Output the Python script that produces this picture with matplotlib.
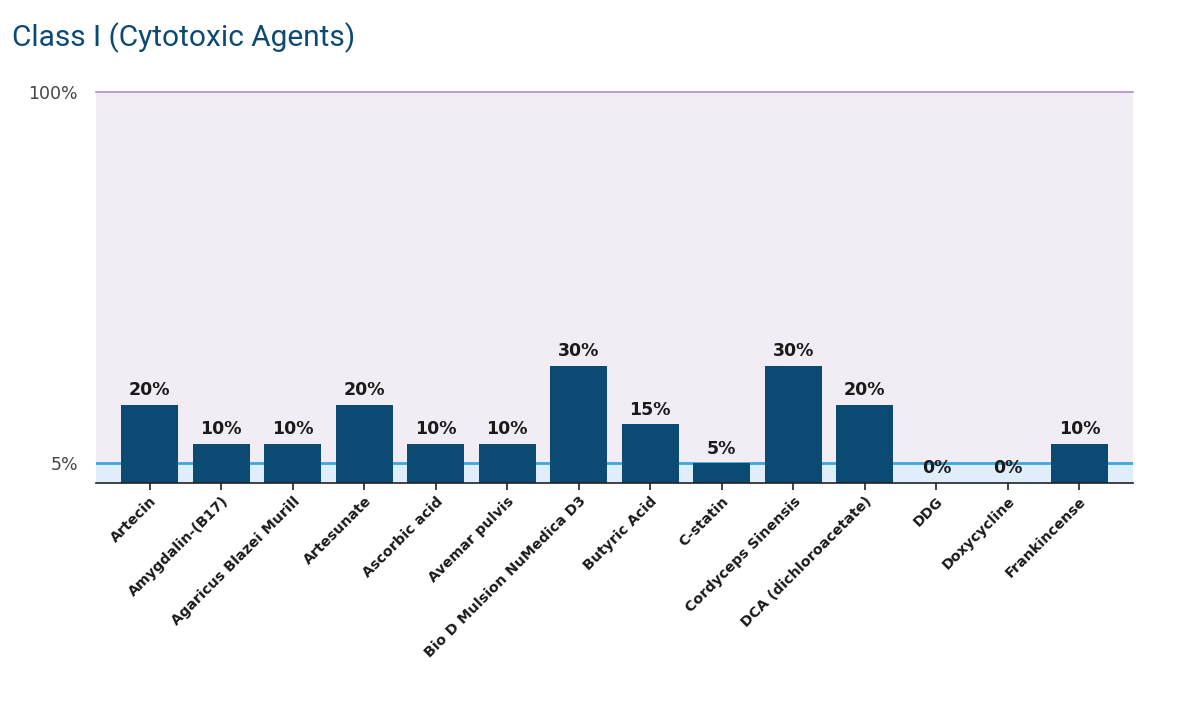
import matplotlib
matplotlib.use("Agg")
import matplotlib.pyplot as plt
import matplotlib.transforms as mtransforms

plt.rcParams["font.family"] = ["DejaVu Sans"]

agents = [
    "Artecin", "Amygdalin-(B17)", "Agaricus Blazei Murill", "Artesunate",
    "Ascorbic acid", "Avemar pulvis", "Bio D Mulsion NuMedica D3",
    "Butyric Acid", "C-statin", "Cordyceps Sinensis",
    "DCA (dichloroacetate)", "DDG", "Doxycycline", "Frankincense",
]
percent = [20, 10, 10, 20, 10, 10, 30, 15, 5, 30, 20, 0, 0, 10]
y_ticks = [5, 100]
y_tick_labels = ["5%", "100%"]

bar_color = "#0b4a73"
title_color = "#0d4a72"

fig = plt.figure(figsize=(12.01, 7.15), dpi=100)
ax = fig.add_axes([0.0799, 0.3245, 0.8635, 0.5468])

# background bands and reference lines
ax.axhspan(0, 5, color="#dfeefa", zorder=0, lw=0)
ax.axhspan(5, 100, color="#f2ecf5", zorder=0, lw=0)
ax.axhline(5, color="#3aa8df", lw=2, zorder=1)
ax.axhline(100, color="#b98ac4", lw=1.2, zorder=1, clip_on=False)

x = range(len(agents))
bars = ax.bar(x, percent, width=0.8, color=bar_color, zorder=2)
for rect, val in zip(bars, percent):
    ax.annotate(f"{val}%", (rect.get_x() + rect.get_width() / 2, rect.get_height()),
                xytext=(0, 4), textcoords="offset points", ha="center", va="bottom",
                fontsize=12.5, fontweight="bold", color="#1a1a1a", zorder=3)

ax.set_xlim(-0.75, len(agents) - 0.25)
ax.set_ylim(0, 100)
ax.set_xticks(list(x))
ax.set_xticklabels(agents, rotation=45, ha="right", va="top", rotation_mode="anchor",
                   fontsize=10.3, fontweight="bold", color="#1a1a1a")
# nudge rotated labels a little to the left, as in the original
shift = mtransforms.ScaledTranslation(-5 / 100, 0, fig.dpi_scale_trans)
for lbl in ax.get_xticklabels():
    lbl.set_transform(lbl.get_transform() + shift)
ax.set_yticks(y_ticks)
ax.set_yticklabels(y_tick_labels, fontsize=12.5, color="#444444")
ax.tick_params(axis="y", length=0, pad=13)
ax.tick_params(axis="x", length=5, width=1.2, color="#222222", pad=3)

for side in ["left", "right", "top"]:
    ax.spines[side].set_visible(False)
ax.spines["bottom"].set_color("#222222")
ax.spines["bottom"].set_linewidth(1.2)
ax.spines["bottom"].set_zorder(4)

fig.text(0.01, 0.935, "Class I (Cytotoxic Agents)", fontsize=21.5,
         color=title_color, family=["Roboto", "DejaVu Sans"],
         ha="left", va="baseline")

fig.savefig("out.png", dpi=100)
